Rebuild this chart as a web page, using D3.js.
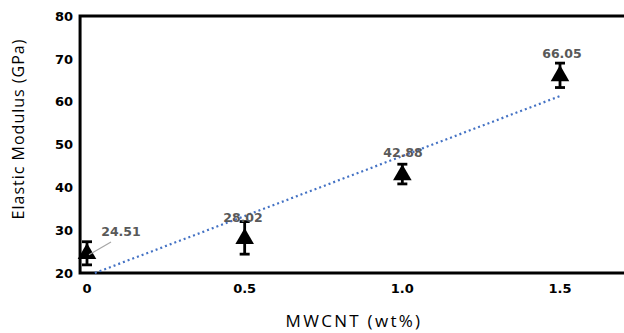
<!DOCTYPE html>
<html>
<head>
<meta charset="utf-8">
<script src="https://cdn.jsdelivr.net/npm/d3@7"></script>
<style>
  body { margin: 0; background: #fff; }
  svg { display: block; }
</style>
</head>
<body>
<svg id="chart"></svg>
<script>
const width = 624, height = 333;

// data
const loadings = [0, 0.5, 1.0, 1.5];
const modulus = [24.51, 28.02, 42.88, 66.05];
const errLow = [21.9, 24.4, 40.8, 63.3];
const errHigh = [27.3, 32.0, 45.4, 69.0];
const labels = ["24.51", "28.02", "42.88", "66.05"];
const yTicks = [20, 30, 40, 50, 60, 70, 80];
const xTicks = [0, 0.5, 1.0, 1.5];
const xTickLabels = ["0", "0.5", "1.0", "1.5"];
const trendX = [0.025, 1.5];
const trendY = [20, 61.3];

const svg = d3.select("#chart")
  .attr("width", width)
  .attr("height", height);

const x = d3.scaleLinear().domain([0, 1.5]).range([87, 560]);
const y = d3.scaleLinear().domain([20, 80]).range([273, 16]);

// frame (right side runs off the picture)
const left = x(-0.022), right = width + 10;
svg.append("path")
  .attr("d", `M${right},${y(80)}H${left}V${y(20)}H${right}`)
  .attr("fill", "none")
  .attr("stroke", "#000")
  .attr("stroke-width", 3);

// y tick labels
svg.append("g").selectAll("text")
  .data(yTicks)
  .enter().append("text")
  .attr("x", 73)
  .attr("y", d => y(d))
  .attr("dy", "0.36em")
  .attr("text-anchor", "end")
  .attr("font-family", "DejaVu Sans")
  .attr("font-weight", "bold")
  .attr("font-size", 13)
  .attr("fill", "#000")
  .text(d => d);

// x tick labels
svg.append("g").selectAll("text")
  .data(xTicks)
  .enter().append("text")
  .attr("x", d => x(d))
  .attr("y", 293)
  .attr("text-anchor", "middle")
  .attr("font-family", "DejaVu Sans")
  .attr("font-weight", "bold")
  .attr("font-size", 13)
  .attr("fill", "#000")
  .text((d, i) => xTickLabels[i]);

// axis titles
svg.append("text")
  .attr("x", 354)
  .attr("y", 327)
  .attr("text-anchor", "middle")
  .attr("font-family", "Open Sans")
  .attr("font-size", 17)
  .attr("letter-spacing", 2.3)
  .attr("fill", "#000")
  .text("MWCNT (wt%)");

svg.append("text")
  .attr("transform", `translate(24, 129) rotate(-90)`)
  .attr("text-anchor", "middle")
  .attr("font-family", "Open Sans")
  .attr("font-size", 16)
  .attr("letter-spacing", 1)
  .attr("fill", "#000")
  .text("Elastic Modulus (GPa)");

// linear trendline
svg.append("line")
  .attr("x1", x(trendX[0])).attr("y1", y(trendY[0]))
  .attr("x2", x(trendX[1])).attr("y2", y(trendY[1]))
  .attr("stroke", "#4472c4")
  .attr("stroke-width", 2.2)
  .attr("stroke-dasharray", "2 3");

const pts = loadings.map((d, i) => ({x: d, y: modulus[i], lo: errLow[i], hi: errHigh[i], label: labels[i]}));

// triangles
svg.append("g").selectAll("path")
  .data(pts)
  .enter().append("path")
  .attr("transform", d => `translate(${x(d.x)},${y(d.y)})`)
  .attr("d", d3.symbol(d3.symbolTriangle, 150))
  .attr("fill", "#000");

// error bars
const err = svg.append("g")
  .attr("stroke", "#000")
  .attr("stroke-width", 2.8);
err.selectAll(".stem")
  .data(pts)
  .enter().append("line")
  .attr("x1", d => x(d.x)).attr("x2", d => x(d.x))
  .attr("y1", d => y(d.lo)).attr("y2", d => y(d.hi));
err.selectAll(".cap-hi")
  .data(pts)
  .enter().append("line")
  .attr("x1", d => x(d.x) - 5).attr("x2", d => x(d.x) + 5)
  .attr("y1", d => y(d.hi)).attr("y2", d => y(d.hi));
err.selectAll(".cap-lo")
  .data(pts)
  .enter().append("line")
  .attr("x1", d => x(d.x) - 5).attr("x2", d => x(d.x) + 5)
  .attr("y1", d => y(d.lo)).attr("y2", d => y(d.lo));

// data labels
const labelPos = [[121, 236], [243, 222], [403, 157], [562, 58]];
svg.append("line")
  .attr("x1", x(0) + 2).attr("y1", y(modulus[0]) + 1)
  .attr("x2", 111).attr("y2", 242)
  .attr("stroke", "#a6a6a6")
  .attr("stroke-width", 1.2);
svg.append("g").selectAll("text")
  .data(pts)
  .enter().append("text")
  .attr("x", (d, i) => labelPos[i][0])
  .attr("y", (d, i) => labelPos[i][1])
  .attr("text-anchor", "middle")
  .attr("font-family", "DejaVu Sans")
  .attr("font-weight", "bold")
  .attr("font-size", 12.5)
  .attr("fill", "#595959")
  .text(d => d.label);
</script>
</body>
</html>
